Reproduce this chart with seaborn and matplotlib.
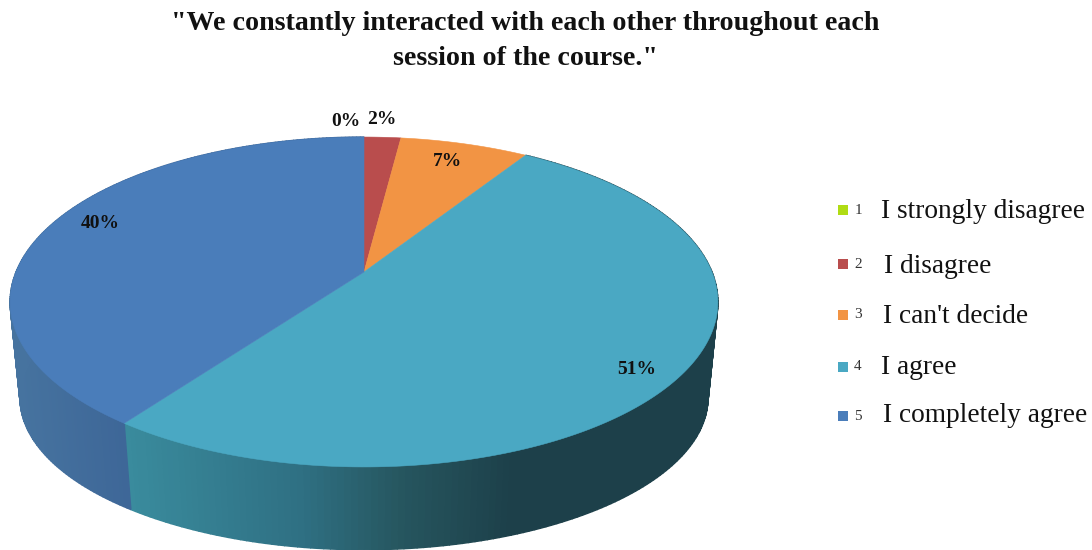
import matplotlib
matplotlib.use("Agg")
import matplotlib.pyplot as plt
import numpy as np
import pandas as pd
import seaborn as sns

# Survey results
codes = ["1", "2", "3", "4", "5"]
answers = ["I strongly disagree", "I disagree", "I can't decide", "I agree", "I completely agree"]
percentages = [0, 2, 7, 51, 40]
title_lines = ["\"We constantly interacted with each other throughout each",
               "session of the course.\""]

# Styling
top_colors = ["#b0dc14", "#b94d4d", "#f29444", "#4aa8c3", "#4a7dba"]
side_stops = {
    3: ([123, 300, 400, 510], ["#3a8c9e", "#2f7083", "#26565f", "#1d404a"]),
    4: ([20, 123], ["#46739f", "#3e6798"]),
}
label_xy = [(346, 121), (382, 120), (447, 162), (637, 370), (100, 224)]
legend_rows = [210, 264, 315, 367, 416]
legend_text_x = [881, 884, 883, 881, 883]
legend_baseline = [218, 273, 323, 374, 422]
title_baseline = [30, 65]

# Perspective of the disc, in pixel units of the canvas
CX, APEX_Y, WIDTH, HEIGHT, TILT = 364.0, 272.0, 348.0, 159.5, 0.1818
RIM_MID_Y, LOW_MID_Y, LOW_SX, LOW_SY = 302.0, 398.0, 0.972, 0.92


def project(theta):
    u, v = np.sin(theta), np.cos(theta)
    w = 1 + TILT * v
    return CX + WIDTH * u / w, APEX_Y - HEIGHT * v / w


def project_low(theta):
    x, y = project(theta)
    return CX + (x - CX) * LOW_SX, LOW_MID_Y + (y - RIM_MID_Y) * LOW_SY


sns.set_theme(style="white")
plt.rcParams["font.family"] = ["Liberation Serif", "DejaVu Serif"]

fig = plt.figure(figsize=(10.92, 5.5), dpi=100)
ax = fig.add_axes([0, 0, 1, 1])
ax.set_xlim(0, 1092)
ax.set_ylim(550, 0)
ax.axis("off")

edges = np.radians(np.concatenate([[0], np.cumsum(percentages)]) * 3.6)

# Side wall, shaded in narrow strips along the front of the disc
for i in range(len(percentages)):
    if i not in side_stops:
        continue
    stops_x, stops_c = side_stops[i]
    rgb = np.array([matplotlib.colors.to_rgb(c) for c in stops_c])
    steps = np.linspace(edges[i], edges[i + 1], 200)
    for a, b in zip(steps[:-1], steps[1:]):
        xt, yt = project(np.array([a, b]))
        xl, yl = project_low(np.array([a, b]))
        mid = (xt.mean() + xl.mean()) / 2
        shade = [np.interp(mid, stops_x, rgb[:, k]) for k in range(3)]
        ax.fill([xt[0], xt[1], xl[1], xl[0]], [yt[0], yt[1], yl[1], yl[0]],
                facecolor=shade, edgecolor=shade, lw=1.0, zorder=1 + i * 0.01)

# Top face of the pie
for i, color in enumerate(top_colors):
    if percentages[i] == 0:
        continue
    arc = np.linspace(edges[i], edges[i + 1], 300)
    x, y = project(arc)
    ax.fill(np.r_[CX, x], np.r_[APEX_Y, y], color=color, lw=0.4, zorder=3)

# Percentage labels
for value, (lx, ly) in zip(percentages, label_xy):
    ax.text(lx, ly, f"{value}%", ha="center", va="center", fontsize=14,
            fontweight="bold", color="#111111", zorder=5)

# Legend: colour key, small code and answer text
key = pd.DataFrame({"x": 843, "y": legend_rows, "code": codes})
sns.scatterplot(data=key, x="x", y="y", hue="code", palette=top_colors, marker="s",
                s=60, linewidth=0, legend=False, ax=ax, zorder=4)
ax.set_xlabel("")
ax.set_ylabel("")
for code, answer, row, tx, ty in zip(codes, answers, legend_rows, legend_text_x, legend_baseline):
    ax.text(858, row, code, ha="center", va="center", fontsize=11, color="#333333")
    ax.text(tx, ty, answer, ha="left", va="baseline", fontsize=19.7, color="#111111")

for line, ly in zip(title_lines, title_baseline):
    ax.text(525, ly, line, ha="center", va="baseline", fontsize=20.2, fontweight="bold",
            color="#111111")

fig.savefig("out.png", dpi=100)
